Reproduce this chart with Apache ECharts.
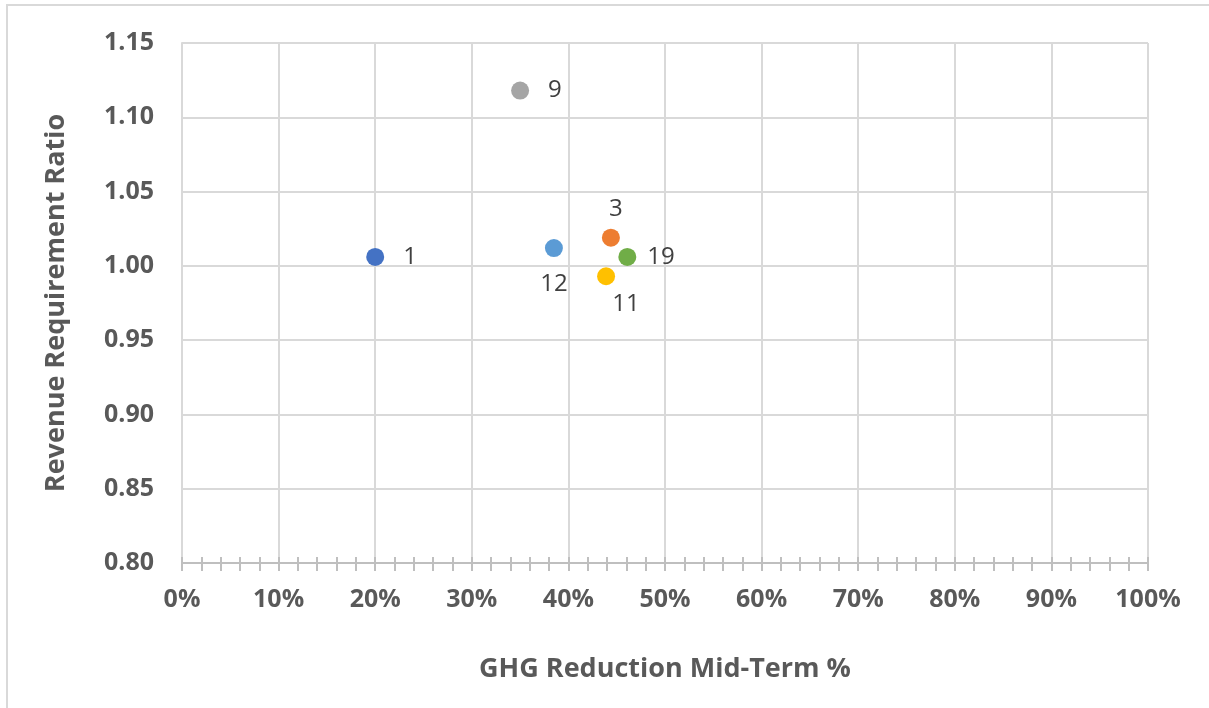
<!DOCTYPE html>
<html>
<head>
<meta charset="utf-8">
<script src="https://cdn.jsdelivr.net/npm/echarts@6/dist/echarts.min.js"></script>
<style>
html,body{margin:0;padding:0;background:#fff;}
#chart{width:1209px;height:708px;}
</style>
</head>
<body>
<div id="chart"></div>
<script>
// Data
const pointLabels = ['1', '9', '12', '3', '19', '11'];
const ghgReduction = [0.200, 0.350, 0.385, 0.444, 0.461, 0.439];
const revenueRatio = [1.006, 1.118, 1.012, 1.019, 1.006, 0.993];
const xTicks = [0, 0.1, 0.2, 0.3, 0.4, 0.5, 0.6, 0.7, 0.8, 0.9, 1.0];
const yTicks = [0.80, 0.85, 0.90, 0.95, 1.00, 1.05, 1.10, 1.15];

// Styles (kept separate from data)
const palette = ['#4472C4', '#A5A5A5', '#5B9BD5', '#ED7D31', '#70AD47', '#FFC000'];
const labelStyle = {
  '1':  {position: 'right', distance: 19},
  '9':  {position: 'right', distance: 19},
  '12': {position: 'bottom', distance: 15},
  '3':  {position: 'top', distance: 7, offset: [5, 0]},
  '19': {position: 'right', distance: 11},
  '11': {position: 'bottom', distance: 7, offset: [20, 0]}
};

const FONT = '"Open Sans", "Noto Sans", sans-serif';
const chart = echarts.init(document.getElementById('chart'));

const seriesData = pointLabels.map((lab, i) => ({
  value: [ghgReduction[i], revenueRatio[i]],
  name: lab,
  itemStyle: {color: palette[i]},
  label: Object.assign({show: true, formatter: lab}, labelStyle[lab])
}));

const xMin = xTicks[0], xMax = xTicks[xTicks.length - 1];
const yMin = yTicks[0], yMax = yTicks[yTicks.length - 1];

chart.setOption({
  animation: false,
  backgroundColor: '#ffffff',
  graphic: [{
    type: 'rect',
    shape: {x: 7, y: 5, width: 1230, height: 730},
    style: {fill: 'none', stroke: '#d9d9d9', lineWidth: 2},
    silent: true, z: -10
  }],
  grid: {left: 182, right: 61, top: 43, bottom: 145},
  xAxis: [{
    type: 'value',
    min: xMin, max: xMax, interval: 0.1,
    name: 'GHG Reduction Mid-Term %',
    nameLocation: 'middle',
    nameGap: 93,
    nameTextStyle: {color: '#595959', fontSize: 27, fontWeight: 'bold', fontFamily: FONT},
    axisLine: {show: true, lineStyle: {color: '#bfbfbf', width: 2}},
    axisTick: {show: true, length: 8, lineStyle: {color: '#bfbfbf', width: 2}},
    minorTick: {show: true, splitNumber: 5, length: 8, lineStyle: {color: '#bfbfbf', width: 2}},
    axisLabel: {
      margin: 24,
      color: '#595959', fontSize: 25, fontWeight: 'bold', fontFamily: FONT,
      formatter: v => Math.round(v * 100) + '%'
    },
    splitLine: {show: true, lineStyle: {color: '#d9d9d9', width: 2}}
  }, {
    type: 'value',
    position: 'bottom',
    min: xMin, max: xMax, interval: 0.1,
    axisLine: {show: false},
    axisTick: {show: true, inside: true, length: 6, lineStyle: {color: '#bfbfbf', width: 2}},
    minorTick: {show: true, splitNumber: 5, length: 6, lineStyle: {color: '#bfbfbf', width: 2}},
    axisLabel: {show: false},
    splitLine: {show: false}
  }],
  yAxis: {
    type: 'value',
    min: yMin, max: yMax, interval: 0.05,
    name: 'Revenue Requirement Ratio',
    nameLocation: 'middle',
    nameGap: 112,
    nameTextStyle: {color: '#595959', fontSize: 27, fontWeight: 'bold', fontFamily: FONT},
    axisLine: {show: true, lineStyle: {color: '#d9d9d9', width: 2}},
    axisTick: {show: false},
    axisLabel: {
      margin: 28,
      color: '#595959', fontSize: 25, fontWeight: 'bold', fontFamily: FONT,
      formatter: v => v.toFixed(2)
    },
    splitLine: {show: true, lineStyle: {color: '#d9d9d9', width: 2}}
  },
  series: [{
    type: 'scatter',
    xAxisIndex: 0,
    symbol: 'circle',
    symbolSize: 18,
    itemStyle: {opacity: 1},
    label: {color: '#404040', fontSize: 24, fontFamily: FONT},
    data: seriesData
  }]
});
</script>
</body>
</html>
